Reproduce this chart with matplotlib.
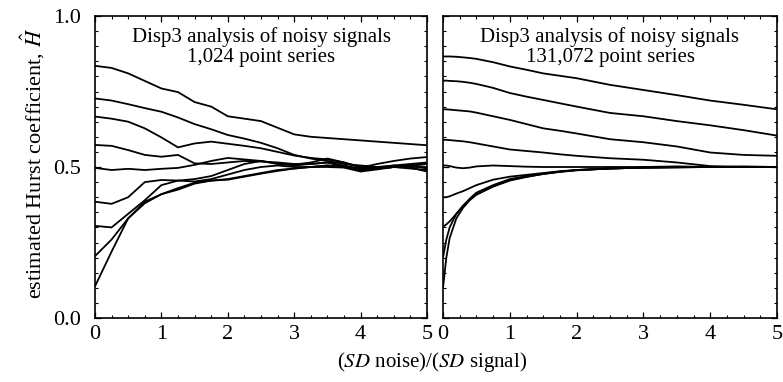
import matplotlib
matplotlib.use("Agg")
import matplotlib.pyplot as plt
from matplotlib.ticker import MultipleLocator

plt.rcParams['font.family'] = ['Liberation Serif', 'DejaVu Serif']
plt.rcParams['mathtext.fontset'] = 'stix'

# ---------------- data ----------------
left_x = [0, 0.25, 0.5, 0.75, 1, 1.25, 1.5, 1.75, 2, 2.25, 2.5, 2.75,
          3, 3.25, 3.5, 3.75, 4, 4.25, 4.5, 4.75, 5]
left_series = [
    [0.835, 0.828, 0.81, 0.785, 0.76, 0.748, 0.715, 0.70, 0.668, 0.66, 0.652, 0.63,
     0.608, 0.60, 0.596, 0.592, 0.588, 0.584, 0.58, 0.576, 0.572],
    [0.727, 0.72, 0.708, 0.695, 0.683, 0.664, 0.642, 0.625, 0.606, 0.594, 0.58, 0.562,
     0.54, 0.528, 0.52, 0.51, 0.505, 0.50, 0.50, 0.505, 0.51],
    [0.667, 0.66, 0.65, 0.628, 0.598, 0.565, 0.578, 0.584, 0.577, 0.57, 0.562, 0.55,
     0.538, 0.53, 0.525, 0.515, 0.50, 0.495, 0.50, 0.505, 0.51],
    [0.573, 0.57, 0.556, 0.54, 0.534, 0.54, 0.512, 0.51, 0.515, 0.52, 0.518, 0.515,
     0.51, 0.51, 0.515, 0.505, 0.495, 0.498, 0.505, 0.51, 0.515],
    [0.497, 0.49, 0.494, 0.49, 0.494, 0.497, 0.507, 0.52, 0.53, 0.525, 0.52, 0.512,
     0.508, 0.515, 0.528, 0.515, 0.498, 0.51, 0.52, 0.528, 0.533],
    [0.385, 0.378, 0.40, 0.45, 0.457, 0.455, 0.46, 0.47, 0.49, 0.51, 0.52, 0.51,
     0.505, 0.51, 0.515, 0.50, 0.49, 0.50, 0.505, 0.50, 0.50],
    [0.305, 0.30, 0.345, 0.39, 0.44, 0.455, 0.452, 0.46, 0.475, 0.49, 0.50, 0.505,
     0.50, 0.50, 0.505, 0.50, 0.49, 0.495, 0.50, 0.505, 0.495],
    [0.205, 0.26, 0.33, 0.385, 0.41, 0.425, 0.445, 0.455, 0.46, 0.47, 0.48, 0.49,
     0.495, 0.50, 0.505, 0.50, 0.488, 0.495, 0.50, 0.495, 0.49],
    [0.105, 0.22, 0.33, 0.38, 0.41, 0.43, 0.448, 0.455, 0.458, 0.468, 0.478, 0.487,
     0.495, 0.50, 0.50, 0.498, 0.485, 0.492, 0.50, 0.498, 0.485],
]

right_x = [0, 0.05, 0.1, 0.2, 0.3, 0.4, 0.5, 0.75, 1, 1.25, 1.5, 1.75, 2,
           2.5, 3, 3.5, 4, 4.5, 5]
right_series = [
    [0.866, 0.866, 0.866, 0.865, 0.863, 0.861, 0.858, 0.847, 0.833, 0.822, 0.81, 0.802,
     0.794, 0.772, 0.755, 0.738, 0.72, 0.706, 0.691],
    [0.786, 0.786, 0.785, 0.784, 0.782, 0.779, 0.775, 0.762, 0.745, 0.733, 0.722, 0.711,
     0.70, 0.679, 0.668, 0.652, 0.638, 0.622, 0.604],
    [0.691, 0.691, 0.69, 0.688, 0.686, 0.684, 0.68, 0.668, 0.656, 0.642, 0.628, 0.62,
     0.611, 0.592, 0.582, 0.568, 0.548, 0.540, 0.537],
    [0.590, 0.590, 0.589, 0.587, 0.585, 0.582, 0.578, 0.568, 0.558, 0.553, 0.548, 0.542,
     0.537, 0.529, 0.524, 0.515, 0.503, 0.500, 0.500],
    [0.505, 0.505, 0.503, 0.498, 0.496, 0.498, 0.502, 0.505, 0.503, 0.501, 0.500, 0.500,
     0.500, 0.500, 0.500, 0.502, 0.500, 0.502, 0.500],
    [0.40, 0.40, 0.403, 0.412, 0.42, 0.43, 0.44, 0.458, 0.468, 0.474, 0.48, 0.486,
     0.49, 0.495, 0.498, 0.50, 0.50, 0.50, 0.50],
    [0.302, 0.31, 0.32, 0.345, 0.37, 0.395, 0.415, 0.44, 0.46, 0.47, 0.478, 0.485,
     0.49, 0.495, 0.498, 0.499, 0.50, 0.50, 0.50],
    [0.20, 0.26, 0.30, 0.345, 0.372, 0.393, 0.41, 0.436, 0.457, 0.468, 0.477, 0.484,
     0.49, 0.495, 0.498, 0.499, 0.50, 0.50, 0.50],
    [0.10, 0.20, 0.265, 0.33, 0.365, 0.39, 0.408, 0.435, 0.455, 0.467, 0.477, 0.484,
     0.489, 0.495, 0.498, 0.499, 0.50, 0.50, 0.50],
]

titles = ["Disp3 analysis of noisy signals\n1,024 point series",
          "Disp3 analysis of noisy signals\n131,072 point series"]
x_ticks = [0, 1, 2, 3, 4, 5]
y_ticks = [0.0, 0.5, 1.0]
y_tick_labels = ["0.0", "0.5", "1.0"]
x_label = r"($\mathit{SD}$ noise)/($\mathit{SD}$ signal)"
y_label = r"estimated Hurst coefficient, $\hat{H}$"

# ---------------- figure ----------------
W, H = 783, 382
fig = plt.figure(figsize=(W / 100, H / 100), dpi=100)

def frac(l, t, r, b):
    return [l / W, 1 - b / H, (r - l) / W, (b - t) / H]

axL = fig.add_axes(frac(95, 16, 427, 318))
axR = fig.add_axes(frac(443, 16, 777, 318))

for ax, xs, series, title in [(axL, left_x, left_series, titles[0]),
                              (axR, right_x, right_series, titles[1])]:
    for ys in series:
        ax.plot(xs, ys, color='black', lw=1.3, solid_joinstyle='round')
    ax.set_xlim(0, 5)
    ax.set_ylim(0, 1)
    ax.set_xticks(x_ticks)
    ax.set_xticklabels([str(v) for v in x_ticks])
    ax.xaxis.set_minor_locator(MultipleLocator(0.25))
    ax.set_yticks(y_ticks)
    ax.yaxis.set_minor_locator(MultipleLocator(0.05))
    ax.tick_params(which='major', direction='in', top=True, right=True,
                   length=4, width=0.9, labelsize=16, pad=5)
    ax.tick_params(which='minor', direction='in', top=True, right=True,
                   length=2, width=0.8)
    for s in ax.spines.values():
        s.set_linewidth(1.2)
    ax.text(0.5, 0.962, title, transform=ax.transAxes, ha='center', va='top',
            fontsize=15, linespacing=1.02)

axL.set_yticklabels(y_tick_labels)
axL.tick_params(axis='y', which='major', pad=10)
axR.set_yticklabels([])

fig.text(432 / W, 1 - 362 / H, x_label, ha='center', va='center', fontsize=15)
fig.text(33 / W, 1 - 163 / H, y_label, ha='center', va='center', rotation=90,
         fontsize=16)

fig.savefig("out.png", dpi=100)
